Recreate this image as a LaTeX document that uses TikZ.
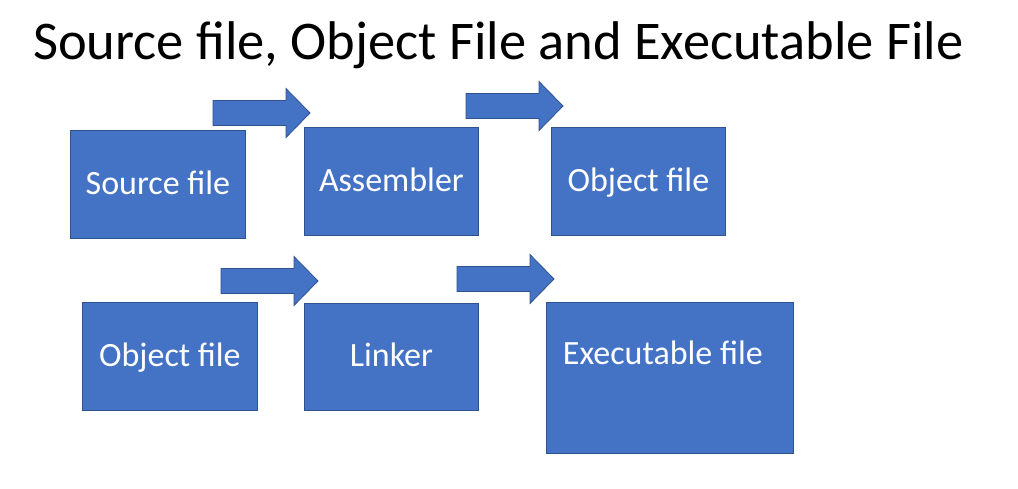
\documentclass[tikz,border=0pt]{standalone}
\usepackage{fontspec}
\setmainfont{Carlito}
\definecolor{boxblue}{HTML}{4472C4}
\definecolor{boxedge}{HTML}{2F528F}

\tikzset{
  filebox/.style={draw=boxedge, fill=boxblue, line width=0.8pt, text=white,
    anchor=north west, inner sep=0pt, text height=20pt, text depth=0pt,
    font=\fontsize{34}{38}\selectfont},
  boxtext/.style={text=white, inner sep=0pt, text height=20pt, text depth=0pt,
    font=\fontsize{34}{38}\selectfont},
  flowarrow/.style={draw=boxedge, fill=boxblue, line width=0.8pt, line join=miter}
}
% block arrow: left end of shaft, middle height
\newcommand{\flowarrow}[2]{%
  \draw[flowarrow] (#1,#2-12.5) -- (#1+73,#2-12.5) -- (#1+73,#2-24.5) -- (#1+97,#2)
    -- (#1+73,#2+24.5) -- (#1+73,#2+12.5) -- (#1,#2+12.5) -- cycle;}

\begin{document}
\begin{tikzpicture}[x=1pt,y=-1pt]
\useasboundingbox[fill=white] (0,0) rectangle (1018,488);
\node[anchor=base west, inner sep=0pt, font=\fontsize{54.5}{60}\selectfont] (title) at (33,59)
  {Source file, Object File and Executable File};
% first row
\node[filebox, minimum width=175pt, minimum height=108pt] (src) at (70,130) {Source file};
\node[filebox, minimum width=174pt, minimum height=108pt] (asm) at (304,127) {Assembler};
\node[filebox, minimum width=174pt, minimum height=108pt] (obj) at (551,127) {Object file};
\flowarrow{213}{113}
\flowarrow{466}{106}
% second row
\node[filebox, minimum width=175pt, minimum height=108pt] (objin) at (82,302) {Object file};
\node[filebox, minimum width=174pt, minimum height=107pt] (lnk) at (304,303) {Linker};
\node[filebox, minimum width=247pt, minimum height=151pt] (exe) at (546,302) {};
\node[boxtext] (exetext) at ([xshift=-7pt,yshift=-52pt]exe.north) {Executable file};
\flowarrow{221}{281}
\flowarrow{457}{279}
\end{tikzpicture}
\end{document}
